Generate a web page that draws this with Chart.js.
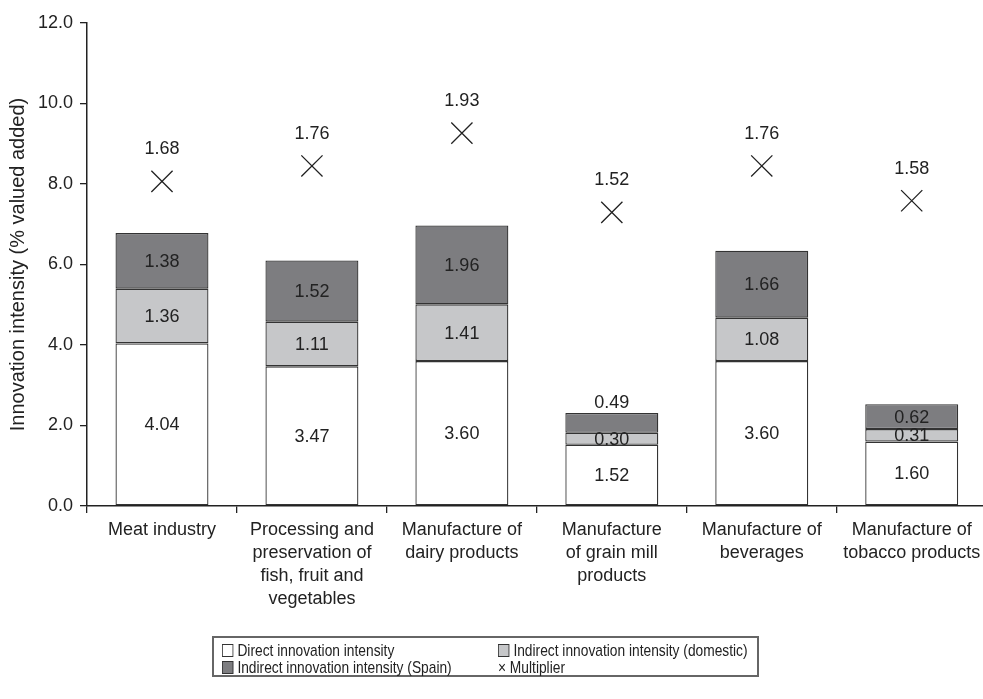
<!DOCTYPE html>
<html>
<head>
<meta charset="utf-8">
<script src="https://cdn.jsdelivr.net/npm/chart.js"></script>
<style>
  html, body { margin: 0; padding: 0; background: #fff; overflow: hidden; }
  #wrap { position: relative; width: 1003px; height: 699px; }
  #legend {
    position: absolute; left: 212px; top: 636px; width: 543px; height: 37px;
    border: 2px solid #666; box-sizing: content-box;
    font-family: "Liberation Sans", Arial, sans-serif;
    font-size: 17px; color: #222; line-height: 18px;
  }
  .item { position: absolute; white-space: nowrap; transform: scaleX(0.81); transform-origin: left center; }
  .sw { display: inline-block; width: 12px; height: 11px; border: 1px solid #333; margin-right: 5px; vertical-align: -1px; }
</style>
</head>
<body>
<div id="wrap">
  <canvas id="chart" width="1003" height="699"></canvas>
  <div id="legend">
    <div class="item" style="left:8px;top:4px"><span class="sw" style="background:#fff"></span>Direct innovation intensity</div>
    <div class="item" style="left:284px;top:4px"><span class="sw" style="background:#c6c7c9"></span>Indirect innovation intensity (domestic)</div>
    <div class="item" style="left:8px;top:21px"><span class="sw" style="background:#7d7d80"></span>Indirect innovation intensity (Spain)</div>
    <div class="item" style="left:284px;top:21px">× Multiplier</div>
  </div>
</div>
<script>
// Chart values
const categories = [
    ['Meat industry'],
    ['Processing and', 'preservation of', 'fish, fruit and', 'vegetables'],
    ['Manufacture of', 'dairy products'],
    ['Manufacture', 'of grain mill', 'products'],
    ['Manufacture of', 'beverages'],
    ['Manufacture of', 'tobacco products']
];
const directIntensity = [4.04, 3.47, 3.60, 1.52, 3.60, 1.60];
const indirectDomestic = [1.36, 1.11, 1.41, 0.30, 1.08, 0.31];
const indirectSpain = [1.38, 1.52, 1.96, 0.49, 1.66, 0.62];
const multiplier = [1.68, 1.76, 1.93, 1.52, 1.76, 1.58];
const yTicks = [0, 2, 4, 6, 8, 10, 12];

const FONT = '"Liberation Sans", Arial, sans-serif';
const TEXT = '#222';

// draws the numbers on the bar segments and above the crosses
const valueLabels = {
    id: 'valueLabels',
    afterDatasetsDraw(chart) {
        const ctx = chart.ctx;
        ctx.save();
        ctx.font = '18px ' + FONT;
        ctx.fillStyle = TEXT;
        ctx.textAlign = 'center';
        ctx.textBaseline = 'middle';
        chart.data.datasets.forEach((ds, di) => {
            const meta = chart.getDatasetMeta(di);
            meta.data.forEach((el, i) => {
                const v = ds.data[i];
                if (ds.type === 'line') {
                    ctx.fillText(v.toFixed(2), el.x, el.y - 32);
                    return;
                }
                const h = Math.abs(el.base - el.y);
                let y = (el.y + el.base) / 2;
                if (di === 2 && h < 22) y = el.y - 11; // small top segment: label above bar
                ctx.fillText(v.toFixed(2), el.x, y + 1);
            });
        });
        ctx.restore();
    }
};

const barCommon = {
    borderColor: '#333',
    borderWidth: 1.3,
    borderSkipped: false,
    stack: 'a',
    categoryPercentage: 1,
    barPercentage: 0.62,
    yAxisID: 'y'
};

new Chart(document.getElementById('chart').getContext('2d'), {
    type: 'bar',
    data: {
        labels: categories,
        datasets: [
            Object.assign({ label: 'Direct innovation intensity', data: directIntensity, backgroundColor: '#ffffff' }, barCommon),
            Object.assign({ label: 'Indirect innovation intensity (domestic)', data: indirectDomestic, backgroundColor: '#c6c7c9' }, barCommon),
            Object.assign({ label: 'Indirect innovation intensity (Spain)', data: indirectSpain, backgroundColor: '#7d7d80' }, barCommon),
            {
                type: 'line',
                label: 'Multiplier',
                data: multiplier,
                yAxisID: 'y2',
                showLine: false,
                pointStyle: 'crossRot',
                pointRadius: 15,
                pointBorderColor: '#222',
                pointBorderWidth: 1.3,
                borderColor: '#222'
            }
        ]
    },
    options: {
        responsive: false,
        animation: false,
        layout: { padding: { top: 23, right: 0, bottom: 0, left: 0 } },
        plugins: {
            legend: { display: false },
            tooltip: { enabled: false }
        },
        scales: {
            x: {
                offset: true,
                grid: { offset: true, drawOnChartArea: false, tickLength: 7, color: '#222', lineWidth: 1.3 },
                border: { color: '#222', width: 1.5 },
                ticks: { color: TEXT, font: { family: FONT, size: 18, lineHeight: 1.27 }, padding: 6, maxRotation: 0, autoSkip: false },
                afterFit: (s) => { s.height = 193; }
            },
            y: {
                min: 0, max: 12,
                afterBuildTicks: (s) => { s.ticks = yTicks.map(v => ({ value: v })); },
                grid: { drawOnChartArea: false, tickLength: 7, color: '#222', lineWidth: 1.3 },
                border: { color: '#222', width: 1.5 },
                ticks: { color: TEXT, font: { family: FONT, size: 18 }, padding: 7, callback: (v) => v.toFixed(1) },
                title: { display: true, text: 'Innovation intensity (% valued added)', color: TEXT, font: { family: FONT, size: 20 }, padding: { top: 6, bottom: 3 } },
                afterFit: (s) => { s.width = 87; }
            },
            y2: { display: false, min: 0, max: 2.5 }
        }
    },
    plugins: [valueLabels]
});
</script>
</body>
</html>
